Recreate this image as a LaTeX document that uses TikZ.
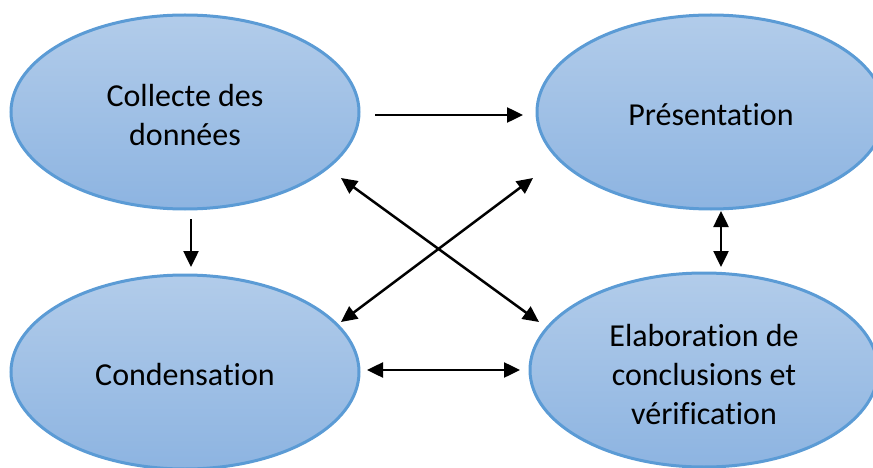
\documentclass[tikz,border=0pt]{standalone}
\usepackage{fontspec}
\setmainfont{Carlito}[RawFeature={-liga}]
\usetikzlibrary{shapes.geometric,arrows.meta}

\definecolor{bubbletop}{RGB}{178,204,234}
\definecolor{bubblebot}{RGB}{141,180,225}
\definecolor{bubbleedge}{RGB}{91,155,213}

\begin{document}
\begin{tikzpicture}[x=1pt,y=-1pt,
  bubble/.style={ellipse, draw=bubbleedge, line width=3pt,
    top color=bubbletop, bottom color=bubblebot,
    minimum width=348pt, minimum height=194pt, inner sep=0pt},
  caption/.style={align=center, inner sep=0pt, font=\fontsize{32}{39}\selectfont},
  link/.style={line width=2.5pt, -{Triangle[length=16pt,width=15pt]}},
  dlink/.style={line width=2.5pt, {Triangle[length=16pt,width=15pt]}-{Triangle[length=16pt,width=15pt]}}
]
\useasboundingbox (0,0) rectangle (873,468);

% the four stages
\node[bubble] (collecte) at (185,112) {};
\node[bubble] (presentation) at (711,112) {};
\node[bubble] (condensation) at (185,372) {};
\node[bubble] (elaboration) at (704,370) {};

\node[caption] (collecte text) at ([yshift=-3pt]collecte.center) {Collecte des\\données};
\node[caption] (presentation text) at ([yshift=-3pt]presentation.center) {Présentation};
\node[caption] (condensation text) at ([yshift=-3pt]condensation.center) {Condensation};
\node[caption] (elaboration text) at ([yshift=-5pt]elaboration.center) {Elaboration de\\conclusions et\\vérification};

% arrow end points between the stages
\coordinate (ab1) at (375,115);
\coordinate (ab2) at (523,115);
\coordinate (ac1) at (191,219);
\coordinate (ac2) at (191,267);
\coordinate (bd1) at (721,211);
\coordinate (bd2) at (721,267);
\coordinate (cd1) at (367,370);
\coordinate (cd2) at (520,370);
\coordinate (ad1) at (341,178);
\coordinate (ad2) at (539,322);
\coordinate (cb1) at (341,322);
\coordinate (cb2) at (533,178);

\draw[link] (ab1) -- (ab2);
\draw[link] (ac1) -- (ac2);
\draw[dlink] (bd1) -- (bd2);
\draw[dlink] (cd1) -- (cd2);
\draw[dlink] (ad1) -- (ad2);
\draw[dlink] (cb1) -- (cb2);
\end{tikzpicture}
\end{document}
